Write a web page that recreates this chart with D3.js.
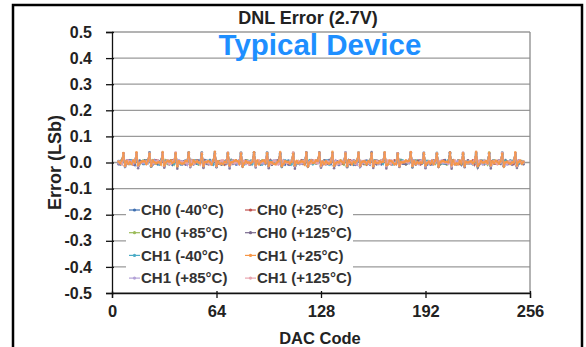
<!DOCTYPE html>
<html><head><meta charset="utf-8">
<script src="https://cdn.jsdelivr.net/npm/d3@7"></script>
<style>html,body{margin:0;padding:0;background:#fff;}svg{display:block;font-family:"Liberation Sans",Arial,sans-serif;}</style>
</head><body><svg id="c" width="586" height="347"></svg>
<script>
// DAC codes start at this code, one value per code (values in milli-LSb)
const startCode = 4;
const seriesNames = ["CH0 (-40°C)","CH0 (+25°C)","CH0 (+85°C)","CH0 (+125°C)","CH1 (-40°C)","CH1 (+25°C)","CH1 (+85°C)","CH1 (+125°C)"];
const seriesColors = ["#3f6fb0","#c0504d","#9bbb59","#7a6a8e","#4bacc6","#f79646","#b3a2d7","#e8a4ae"];
const xTicks = [0,64,128,192,256];
const yTicks = [0.5,0.4,0.3,0.2,0.1,0.0,-0.1,-0.2,-0.3,-0.4,-0.5];

const ch0m40 = [6,-7,9,32,-12,4,-5,8, -3,6,-9,35,-14,7,1,-6, 8,-5,3,30,-11,-2,9,0, -7,4,5,37,-15,6,-3,2, 3,-9,7,33,-13,1,5,-8, 5,0,-6,38,-12,8,-7,3, -5,7,2,31,-16,3,6,-2, 9,-3,-8,34,-11,-5,3,6, 1,5,3,36,-14,9,-6,-3, -8,3,7,32,-12,0,8,2, 5,-6,1,38,-13,5,-2,-8, 2,8,-5,30,-15,-3,6,0, -3,1,9,35,-11,7,-8,5, 7,-8,3,33,-14,2,0,-6, -5,6,-2,37,-12,-5,9,3, 3,-3,8,31,-16,5,-2,7, 0,9,-6,34,-13,1,5,-9, 6,-5,2,38,-11,8,-7,0, -9,3,5,32,-14,2,3,6, 7,1,-8,36,-12,-3,8,-3, 2,-7,6,30,-15,5,0,3, -6,5,1,35,-11,9,-5,-5, 5,-3,8,33,-13,0,2,7, 0,7,-2,37,-14,-8,6,1, -7,2,5,31,-12,3,-3,5, 9,-6,0,34,-16,7,5,-8, 3,6,-8,36,-11,-2,1,2, -3,-5,3,32,-13,6,7,-3, 6,2,-6,35,-15,0,-5,5, -5,8,5,30,-12,9,3,0, 7,-3,1,36,-14,-6,5,2, -5];
const ch0p25 = [-3,5,-6,34,-10,7,2,-5, 6,-8,3,31,-13,0,5,2, 0,3,7,37,-12,-5,-3,8, 7,-6,1,33,-14,3,8,-3, -5,8,2,35,-11,5,-6,0, 3,1,-7,32,-15,-3,2,6, 8,-2,5,38,-12,7,0,-7, -3,6,0,30,-13,3,-5,2, 5,-8,7,34,-11,-2,8,1, 0,2,-6,36,-14,6,-3,5, -7,5,3,31,-12,0,6,-5, 6,-3,8,37,-15,8,-8,2, 2,7,-5,33,-11,-6,3,0, -5,0,6,35,-13,2,5,-3, 8,-6,-2,32,-12,5,1,7, 0,3,8,39,-14,-8,2,-5, -3,7,0,30,-11,6,-3,3, 5,-5,2,34,-15,1,8,-2, 3,0,-7,37,-12,3,-6,6, -8,6,5,31,-13,7,2,0, 5,-2,1,35,-11,-3,6,-7, 0,8,-5,33,-14,5,0,3, -6,2,7,38,-12,1,-8,5, 7,-7,3,32,-13,2,5,-3, 3,5,-2,34,-15,-6,3,8, -2,0,6,36,-11,8,-5,1, 5,-6,0,31,-12,3,7,-2, 1,8,-8,37,-14,-2,0,5, -7,3,5,33,-13,6,2,-5, 6,-3,2,35,-11,0,-2,3, 2,5,-6,32,-15,7,6,0, 3];
const ch0p85 = [3,-5,7,29,-13,5,-3,0, -6,3,1,33,-11,-7,5,7, 5,8,-2,36,-15,2,0,-5, 1,-3,6,31,-12,8,-6,3, 8,5,-7,34,-14,0,2,-3, -2,0,3,37,-11,6,7,5, 6,-8,1,32,-13,-3,-5,0, 2,5,8,35,-15,3,6,-7, -7,0,-5,30,-12,7,-2,2, 5,3,6,38,-14,-5,1,8, 0,-6,7,33,-11,3,5,-3, 8,2,-3,35,-13,0,-7,6, -5,6,0,31,-15,5,2,1, 3,-2,8,37,-12,-3,6,-5, 0,7,-6,34,-14,8,-2,3, 6,-5,2,32,-11,1,7,-3, -3,3,5,36,-13,2,-6,5, 7,0,-8,30,-15,-5,3,0, 1,6,2,38,-12,5,0,-7, -5,-3,7,33,-14,3,6,2, 6,8,1,35,-11,-2,-5,5, 2,-6,5,31,-13,7,3,-2, -7,3,-2,37,-15,0,8,1, 5,0,3,34,-12,6,-3,5, 0,5,-5,32,-14,-7,6,2, -3,-8,7,36,-11,2,1,-6, 7,3,0,30,-13,5,-5,3, 2,-2,6,35,-15,0,3,7, -6,6,-7,38,-12,-3,8,0, 1,2,3,33,-14,6,-2,-3, 5,-5,8,31,-11,3,0,6, -3];
const ch0p125 = [-7,3,5,35,-17,0,8,-5, 6,-3,-6,32,-22,5,2,0, 1,7,3,39,-15,-8,-2,5, -3,-6,8,34,-20,3,6,-7, 7,2,-3,31,-24,5,0,3, 0,-8,5,37,-16,-2,7,-3, 5,6,1,33,-21,8,-5,6, -5,0,7,40,-18,1,3,-8, 3,-3,-6,32,-23,5,-2,2, 8,5,2,35,-15,-6,6,0, -2,-7,5,38,-19,3,1,5, 0,3,-3,31,-22,7,-8,-2, 6,-5,8,36,-17,0,5,3, -8,2,1,34,-24,-3,3,-6, 3,7,-5,39,-16,6,-2,0, 5,-2,3,32,-20,2,8,-7, -6,1,7,35,-22,-5,0,5, 0,6,-3,37,-18,8,-6,2, 8,-8,5,31,-15,0,3,-3, -3,3,0,40,-21,5,-7,6, 5,-5,8,33,-23,-2,5,1, 2,0,-6,35,-17,3,0,-5, -7,6,3,38,-19,7,-3,2, 6,-2,-2,32,-22,0,5,-8, 0,8,5,34,-16,-6,2,6, -5,-5,1,39,-24,5,-2,0, 7,2,-8,31,-18,3,8,-3, 3,-3,6,36,-20,-7,0,5, -2,5,2,33,-23,6,-5,3, 5,0,-6,37,-15,1,3,-6, 1,-8,7,34,-21,2,6,0, -7];
const ch1m40 = [0,6,-3,31,-13,2,5,-6, 8,-3,6,34,-11,-5,0,2, -6,3,1,37,-14,8,-2,5, 2,-8,7,32,-10,0,6,-3, 6,1,-5,35,-12,5,-7,0, -3,8,3,30,-13,-2,2,8, 0,-6,5,38,-11,3,7,-5, 7,2,-8,33,-14,1,-3,3, -5,6,2,36,-10,5,0,-3, 3,-2,0,31,-12,-7,6,5, 5,7,-6,34,-13,2,-5,0, -8,0,5,39,-11,6,3,-2, 2,-5,3,32,-14,0,8,6, 0,6,-7,35,-10,-6,-2,2, 6,-3,8,31,-12,7,1,-7, -2,3,0,37,-13,2,5,0, 8,-8,6,33,-11,-3,-6,5, 1,5,-2,36,-14,6,3,-3, -6,0,7,30,-10,1,-2,2, 5,-5,2,34,-12,8,5,-6, 3,7,-5,38,-13,-6,0,1, -7,2,1,32,-11,3,8,5, 6,-2,6,35,-14,0,-7,-3, 0,5,-3,31,-10,6,2,2, 8,-6,3,37,-12,-3,0,-5, -3,1,8,33,-13,7,-5,0, 2,6,-5,36,-11,0,5,3, 5,-7,0,30,-14,2,-2,-2, -5,3,6,34,-10,-6,7,5, 0,-3,-2,38,-12,5,1,0, 7,5,2,32,-13,-3,3,-6, 1];
const ch1p25 = [3,-3,8,36,-12,5,-6,2, -6,7,0,39,-10,-3,3,5, 5,-6,6,34,-13,8,1,-3, 0,2,-8,40,-11,0,6,3, 7,-2,2,35,-14,5,-3,-5, -3,6,5,38,-10,-7,8,0, 5,0,-3,33,-12,2,1,6, 2,-8,7,41,-13,5,-6,-3, -6,3,0,36,-11,1,2,7, 8,5,-5,34,-14,-3,6,0, 0,-3,3,39,-10,7,-7,2, 6,7,-2,35,-12,2,0,-5, -7,0,5,40,-13,-6,5,3, 2,-5,2,33,-11,6,-3,1, 5,3,-8,38,-14,0,7,-2, 0,8,6,36,-10,3,-6,5, -2,-5,1,41,-12,-3,2,0, 7,2,-3,34,-13,8,0,-7, 3,-2,7,37,-11,1,5,3, -6,5,0,35,-14,6,-2,-3, 5,1,3,39,-10,-8,7,6, 0,-7,-5,33,-12,2,0,1, 8,5,6,40,-13,5,-6,2, -3,0,-2,36,-11,-3,3,-5, 6,-6,7,34,-14,0,5,6, 2,3,1,38,-10,7,-8,-3, -7,7,-5,35,-12,3,0,2, 5,-3,2,41,-13,-6,6,0, 0,6,-2,37,-11,5,-3,7, 3,-5,5,33,-14,1,3,-2, -6,0,1,39,-10,2,7,-5, 3];
const ch1p85 = [-3,2,0,30,-11,7,-5,5, 6,-6,8,33,-13,0,2,-3, 0,5,-2,36,-10,-5,7,3, 7,-3,5,31,-14,3,-2,0, -6,0,2,34,-12,8,6,-7, 3,7,-8,37,-11,1,-3,5, 5,-2,0,32,-13,-6,3,2, -7,6,5,35,-10,5,1,-5, 2,0,-3,30,-14,3,8,0, 0,-7,8,38,-11,-2,-6,6, 5,2,1,33,-12,6,3,-3, -3,-5,6,36,-13,0,0,7, 8,0,-6,31,-10,-8,5,0, 0,6,3,34,-14,2,-2,-5, -5,-2,7,37,-11,5,8,3, 2,8,-3,32,-12,-3,1,-2, 6,-6,0,35,-13,7,-7,5, -2,3,5,30,-10,1,2,0, 7,0,-8,38,-14,-5,6,3, 0,-3,2,33,-11,3,0,-6, -6,5,6,36,-12,6,-2,7, 2,-7,0,31,-13,-3,5,1, 5,2,-3,34,-10,8,3,-3, -7,1,8,37,-14,0,-6,5, 3,6,0,32,-11,2,7,-2, 1,-2,-6,35,-12,-5,0,3, 6,7,3,30,-13,5,-3,0, -3,0,5,38,-10,1,6,-7, 8,-5,-2,33,-14,3,0,6, 2,3,7,36,-11,-3,-8,2, -6,-2,1,31,-12,7,5,-3, 5];
const ch1p125 = [5,0,-6,34,-14,3,7,-3, -3,7,2,37,-11,-5,1,6, 3,-6,5,32,-13,5,-2,0, 7,1,-3,35,-10,0,8,-6, -5,6,7,39,-12,-3,3,2, 0,-2,0,33,-14,7,-6,1, 6,2,-8,36,-11,3,5,-3, -3,-5,6,31,-13,0,1,7, 8,0,3,38,-10,-7,2,-5, 1,5,-3,34,-12,6,-2,3, -6,-2,7,32,-14,3,8,0, 2,8,0,37,-11,-3,-5,5, 5,-7,-5,35,-13,7,1,-2, -2,3,5,39,-10,0,6,3, 0,6,2,33,-12,-6,-3,1, 7,-3,-2,36,-14,5,2,-5, 3,1,8,31,-11,2,-7,6, -7,5,0,38,-13,-3,5,0, 5,-5,6,34,-10,6,1,-3, 1,2,-6,32,-12,0,7,3, -2,8,3,37,-14,7,-2,-5, 6,-3,-2,35,-11,-5,3,5, 2,0,7,39,-13,3,-6,1, -5,6,0,33,-10,0,5,-2, 8,-7,5,36,-12,6,0,3, 0,3,-3,31,-14,-2,8,-7, -3,5,2,38,-11,2,-3,6, 5,-6,8,34,-13,7,1,0, 3,0,-5,32,-10,-6,6,-3, -7,7,0,37,-12,1,-2,3, 6,-3,5,35,-14,5,2,0, -2];

const seriesValues = [ch0m40, ch0p25, ch0p85, ch0p125, ch1m40, ch1p25, ch1p85, ch1p125];
const drawOrder = [0,1,2,3,4,6,7,5];

const svg = d3.select("#c");
const x = d3.scaleLinear().domain([0,256]).range([112,530]);
const y = d3.scaleLinear().domain([-0.5,0.5]).range([293,32]);
const FONT = "Liberation Sans, Arial, sans-serif";

// gridlines
svg.append("g").selectAll("line").data(yTicks).join("line")
  .attr("x1",x(0)).attr("x2",x(256)).attr("y1",d=>y(d)).attr("y2",d=>y(d))
  .attr("stroke","#9a9a9a").attr("stroke-width",1.3);
svg.append("line").attr("x1",x(256)).attr("x2",x(256)).attr("y1",y(0.5)).attr("y2",y(-0.5))
  .attr("stroke","#8a8a8a").attr("stroke-width",1.3);

// series
const line = d3.line().x((d,i)=>x(startCode+i)).y(d=>y(d/1000));
const gS = svg.append("g");
drawOrder.forEach(k=>{
  const vals = seriesValues[k];
  gS.append("path").datum(vals).attr("d",line).attr("fill","none")
    .attr("stroke",seriesColors[k]).attr("stroke-width",1.5).attr("stroke-opacity",0.85);
  gS.append("g").selectAll("circle").data(vals).join("circle")
    .attr("cx",(d,i)=>x(startCode+i)).attr("cy",d=>y(d/1000)).attr("r",1.3)
    .attr("fill",seriesColors[k]).attr("fill-opacity",0.85);
});

// legend
const lg = svg.append("g");
lg.append("rect").attr("x",126).attr("y",197).attr("width",227).attr("height",94).attr("fill","#fff");
seriesNames.forEach((n,k)=>{
  const col = k%2, row = Math.floor(k/2);
  const lx = col===0 ? 129 : 245;
  const ly = 210 + row*22.7;
  lg.append("line").attr("x1",lx).attr("x2",lx+11).attr("y1",ly).attr("y2",ly)
    .attr("stroke",seriesColors[k]).attr("stroke-width",1.2);
  lg.append("circle").attr("cx",lx+5.5).attr("cy",ly).attr("r",1.6).attr("fill",seriesColors[k]);
  lg.append("text").attr("x",lx+12).attr("y",ly+5.2).text(n)
    .attr("font-size","15px").attr("font-weight","bold").attr("fill","#333");
});

// axes
const yAxis = d3.axisLeft(y).tickValues(yTicks).tickSize(6);
const gy = svg.append("g").attr("transform",`translate(${x(0)},0)`).call(yAxis);
gy.select(".domain").attr("stroke","#111").attr("stroke-width",1.3);
gy.selectAll(".tick line").attr("stroke","#111").attr("stroke-width",1.3).attr("x2",-6).attr("x1",2);
gy.selectAll(".tick text").attr("x",-20).attr("font-size","16px").attr("font-weight","bold")
  .attr("font-family",FONT).attr("fill","#222")
  .text(d=> d3.format(".1f")(d).replace("−","-"));

const xAxis = d3.axisBottom(x).tickValues(xTicks).tickSize(5);
const gx = svg.append("g").attr("transform",`translate(0,${y(-0.5)})`).call(xAxis);
gx.select(".domain").attr("stroke","#111").attr("stroke-width",1.3);
gx.selectAll(".tick line").attr("stroke","#111").attr("stroke-width",1.3).attr("y1",-2);
gx.selectAll(".tick text").attr("y",12).attr("font-size","16.5px").attr("font-weight","bold")
  .attr("font-family",FONT).attr("fill","#222");

// titles
svg.append("text").attr("x",308).attr("y",24).attr("text-anchor","middle")
  .attr("font-size","18px").attr("font-weight","bold").attr("fill","#222").text("DNL Error (2.7V)");
svg.append("text").attr("x",320).attr("y",55).attr("text-anchor","middle")
  .attr("font-size","29.5px").attr("font-weight","bold").attr("fill","#1e8fff").text("Typical Device");
svg.append("text").attr("x",320).attr("y",344).attr("text-anchor","middle")
  .attr("font-size","16.5px").attr("font-weight","bold").attr("fill","#222").text("DAC Code");
svg.append("text").attr("transform",`translate(61,${y(0)}) rotate(-90)`).attr("text-anchor","middle")
  .attr("font-size","18px").attr("font-weight","bold").attr("fill","#222").text("Error (LSb)");

// frame
svg.append("rect").attr("x",13).attr("y",5).attr("width",569).attr("height",360)
  .attr("fill","none").attr("stroke","#000").attr("stroke-width",2.5);
</script></body></html>
